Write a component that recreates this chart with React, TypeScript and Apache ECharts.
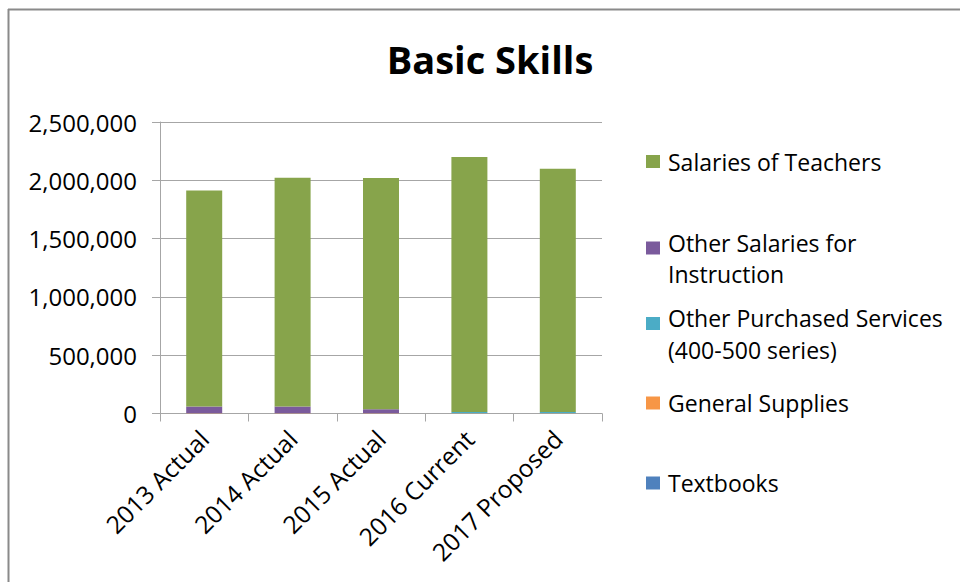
import React, { useEffect, useRef } from "react";
import * as echarts from "echarts";

const categories = ["2013 Actual", "2014 Actual", "2015 Actual", "2016 Current", "2017 Proposed"];
const yTicks = [0, 500000, 1000000, 1500000, 2000000, 2500000];

const seriesNames = [
  "Textbooks",
  "General Supplies",
  "Other Purchased Services (400-500 series)",
  "Other Salaries for Instruction",
  "Salaries of Teachers",
];
const legendLines = [
  ["Textbooks"],
  ["General Supplies"],
  ["Other Purchased Services", "(400-500 series)"],
  ["Other Salaries for", "Instruction"],
  ["Salaries of Teachers"],
];
const textbooks = [500, 400, 300, 300, 300];
const generalSupplies = [1500, 1200, 1000, 1500, 1500];
const purchasedServices = [0, 0, 0, 12000, 12000];
const otherSalaries = [58000, 58000, 36000, 0, 0];
const teacherSalaries = [1852000, 1962000, 1982000, 2186000, 2086000];

const colors = ["#4F81BD", "#F79646", "#4BACC6", "#7A5A9C", "#87A44B"];

export default function App() {
  const ref = useRef<HTMLDivElement>(null);
  useEffect(() => {
    if (!ref.current) return;
    const chart = echarts.init(ref.current, null, { renderer: "svg" });
    const values = [textbooks, generalSupplies, purchasedServices, otherSalaries, teacherSalaries];
    // icon centre y for each legend entry
    const iconCentres = [483, 403, 323.5, 248, 161.5];
    const LH = 31.5;
    const PAD = 21;
    chart.setOption({
      animation: false,
      backgroundColor: "#fff",
      textStyle: { fontFamily: "Open Sans", color: "#000" },
      title: {
        text: "Basic Skills",
        left: 490,
        top: 40,
        textAlign: "center",
        padding: 0,
        textStyle: { fontSize: 38, fontWeight: "bold", color: "#000", fontFamily: "Open Sans", lineHeight: 38 },
      },
      graphic: [
        { type: "line", shape: { x1: 8, y1: 9.5, x2: 960, y2: 9.5 }, style: { stroke: "#8a8a8a", lineWidth: 2 } },
        { type: "line", shape: { x1: 8.5, y1: 9, x2: 8.5, y2: 582 }, style: { stroke: "#8a8a8a", lineWidth: 2 } },
      ],
      legend: seriesNames.map((n, i) => {
        const lines = legendLines[i];
        const two = lines.length > 1;
        const blockH = two ? PAD + 2 * LH : LH;
        return {
          data: [n],
          left: 646,
          top: iconCentres[i] - blockH / 2,
          padding: 0,
          orient: "vertical",
          itemWidth: 14,
          itemHeight: 13,
          icon: "rect",
          selectedMode: false,
          formatter: () =>
            two ? `{pad| }\n{t|${lines[0]}}\n{t|${lines[1]}}` : `{t|${lines[0]}}`,
          textStyle: {
            fontSize: 23,
            lineHeight: LH,
            color: "#000",
            fontFamily: "Open Sans",
            rich: {
              pad: { fontSize: 8, lineHeight: PAD, height: PAD },
              t: { fontSize: 23, lineHeight: LH, padding: [0, 0, 0, 3], color: "#000", fontFamily: "Open Sans" },
            },
          },
        };
      }),
      grid: { left: 160, right: 358, top: 122, bottom: 168.5, containLabel: false },
      xAxis: {
        type: "category",
        data: categories,
        boundaryGap: true,
        axisLine: { lineStyle: { color: "#A6A6A6", width: 1 } },
        axisTick: { show: true, length: 8, alignWithLabel: false, lineStyle: { color: "#A6A6A6" } },
        axisLabel: { rotate: 45, fontSize: 24.5, color: "#000", margin: 21, fontFamily: "Open Sans" },
      },
      yAxis: {
        type: "value",
        min: yTicks[0],
        max: yTicks[yTicks.length - 1],
        interval: yTicks[1] - yTicks[0],
        axisLine: { show: true, lineStyle: { color: "#A6A6A6" } },
        axisTick: { show: true, length: 8, lineStyle: { color: "#A6A6A6" } },
        splitLine: { lineStyle: { color: "#A6A6A6" } },
        axisLabel: {
          fontSize: 24,
          color: "#000",
          margin: 23,
          fontFamily: "Open Sans",
          formatter: (v: number) => v.toLocaleString("en-US"),
        },
      },
      series: seriesNames.map((n, i) => ({
        name: n,
        type: "bar",
        stack: "total",
        barWidth: 36,
        data: values[i],
        itemStyle: { color: colors[i] },
      })),
    });
    return () => chart.dispose();
  }, []);
  return <div ref={ref} style={{ position: "fixed", left: 0, top: 0, width: 960, height: 582 }} />;
}
